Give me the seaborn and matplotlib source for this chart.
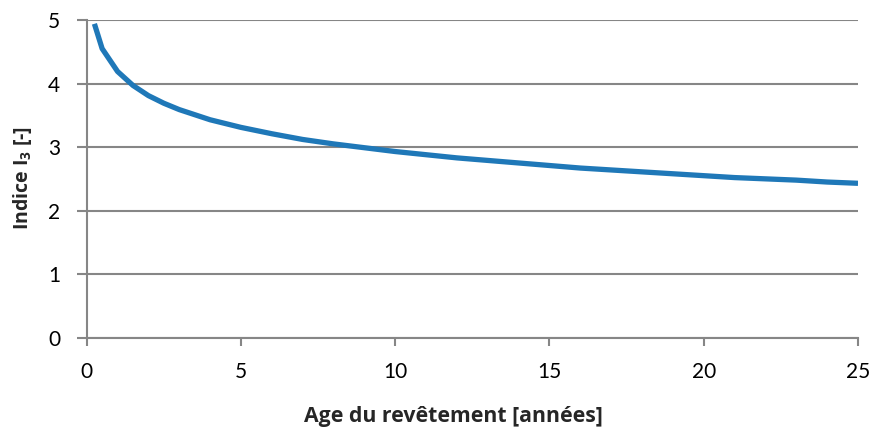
import matplotlib
matplotlib.use("Agg")
import matplotlib.pyplot as plt
import pandas as pd
import seaborn as sns

# Age of the surface layer (years) and corresponding I3 index
age_years = [0.25, 0.5, 1, 1.5, 2, 2.5, 3, 4, 5, 6, 7, 8, 9, 10, 11, 12, 13,
             14, 15, 16, 17, 18, 19, 20, 21, 22, 23, 24, 25]
indice_i3 = [4.94, 4.55, 4.19, 3.97, 3.81, 3.69, 3.59, 3.43, 3.31, 3.21, 3.12,
             3.05, 2.99, 2.93, 2.88, 2.83, 2.79, 2.75, 2.71, 2.67, 2.64, 2.61,
             2.58, 2.55, 2.52, 2.50, 2.48, 2.45, 2.43]
x_ticks = [0, 5, 10, 15, 20, 25]
y_ticks = [0, 1, 2, 3, 4, 5]

sns.set_theme(style="white")
plt.rcParams["font.family"] = ["Lato", "DejaVu Sans"]
plt.rcParams["mathtext.fontset"] = "custom"
plt.rcParams["mathtext.rm"] = "Open Sans"
plt.rcParams["mathtext.bf"] = "Open Sans:bold"

grey = "#868686"
blue = "#1F78B8"

df = pd.DataFrame({"age": age_years, "i3": indice_i3})

fig = plt.figure(figsize=(8.74, 4.34), dpi=100)
ax = fig.add_axes([0.0992, 0.2219, 0.8825, 0.732])

sns.lineplot(data=df, x="age", y="i3", ax=ax, color=blue, linewidth=3.8,
             solid_capstyle="butt", solid_joinstyle="round")

ax.set_xlim(0, 25)
ax.set_ylim(0, 5)
ax.set_xticks(x_ticks)
ax.set_yticks(y_ticks)
ax.set_xticklabels([str(v) for v in x_ticks])
ax.set_yticklabels([str(v) for v in y_ticks])

ax.yaxis.grid(True, color=grey, linewidth=1.5)
ax.xaxis.grid(False)
ax.set_axisbelow(True)

for side in ("top", "right"):
    ax.spines[side].set_visible(False)
for side in ("left", "bottom"):
    ax.spines[side].set_color(grey)
    ax.spines[side].set_linewidth(1.5)

ax.tick_params(axis="x", direction="out", length=5.5, width=1.5, color=grey,
               pad=12, labelsize=15, labelcolor="black", bottom=True)
ax.tick_params(axis="y", direction="out", length=7.2, width=1.5, color=grey,
               pad=12, labelsize=15, labelcolor="black", left=True)

ax.set_xlabel("Age du revêtement [années]", family=["Open Sans", "DejaVu Sans"],
              fontsize=15.3, fontweight="bold")
ax.set_ylabel(r"Indice I$_\mathbf{3}$ [-]", family=["Open Sans", "DejaVu Sans"],
              fontsize=14, fontweight="bold")
# axis title positions in axes-fraction coordinates
ax.xaxis.set_label_coords(0.4756, -0.215)
ax.yaxis.set_label_coords(-0.068, 0.504)

fig.savefig("out.png", dpi=100)
